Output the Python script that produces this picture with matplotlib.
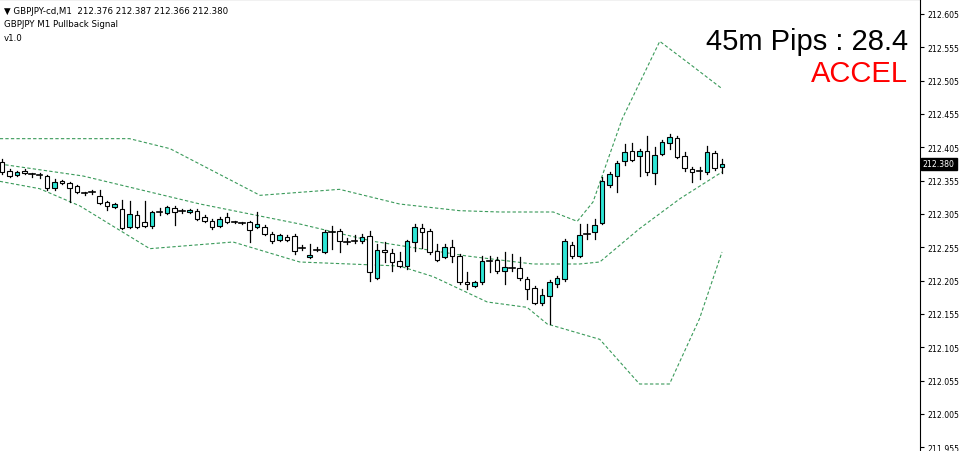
import matplotlib
matplotlib.use("Agg")
import matplotlib.pyplot as plt
import numpy as np

# OHLC for GBPJPY M1 (oldest first)
opens = [212.383, 212.370, 212.364, 212.370, 212.365, 212.364, 212.362, 212.344, 212.355, 212.351,
         212.347, 212.336, 212.338, 212.332, 212.323, 212.315, 212.312, 212.285, 212.303, 212.293,
         212.287, 212.308, 212.306, 212.314, 212.309, 212.308, 212.309, 212.300, 212.294, 212.287,
         212.300, 212.293, 212.291, 212.293, 212.285, 212.285, 212.275, 212.266, 212.270, 212.272,
         212.254, 212.240, 212.251, 212.248, 212.278, 212.279, 212.263, 212.264, 212.264, 212.272,
         212.209, 212.251, 212.246, 212.234, 212.227, 212.263, 212.284, 212.279, 212.249, 212.240,
         212.255, 212.242, 212.203, 212.197, 212.203, 212.233, 212.236, 212.219, 212.224, 212.224,
         212.207, 212.194, 212.171, 212.182, 212.200, 212.207, 212.258, 212.242, 212.275, 212.278,
         212.291, 212.348, 212.362, 212.384, 212.399, 212.392, 212.399, 212.366, 212.395, 212.411,
         212.419, 212.392, 212.373, 212.370, 212.368, 212.396, 212.376]
highs = [212.388, 212.373, 212.370, 212.373, 212.366, 212.366, 212.364, 212.358, 212.356, 212.353,
         212.348, 212.338, 212.341, 212.341, 212.324, 212.321, 212.326, 212.324, 212.309, 212.324,
         212.309, 212.314, 212.317, 212.317, 212.312, 212.312, 212.312, 212.303, 212.297, 212.300,
         212.306, 212.294, 212.293, 212.294, 212.308, 212.288, 212.278, 212.275, 212.273, 212.275,
         212.258, 212.260, 212.255, 212.281, 212.287, 212.282, 212.269, 212.273, 212.275, 212.279,
         212.260, 212.263, 212.252, 212.248, 212.266, 212.290, 212.290, 212.282, 212.260, 212.260,
         212.266, 212.245, 212.218, 212.204, 212.242, 212.242, 212.240, 212.248, 212.245, 212.240,
         212.210, 212.197, 212.192, 212.206, 212.212, 212.267, 212.263, 212.290, 212.290, 212.297,
         212.360, 212.368, 212.384, 212.410, 212.411, 212.402, 212.422, 212.405, 212.416, 212.425,
         212.422, 212.398, 212.375, 212.375, 212.407, 212.399, 212.387]
lows = [212.365, 212.361, 212.362, 212.365, 212.361, 212.359, 212.341, 212.341, 212.350, 212.323,
        212.336, 212.333, 212.335, 212.320, 212.311, 212.314, 212.283, 212.284, 212.284, 212.285,
        212.284, 212.303, 212.305, 212.288, 212.306, 212.306, 212.296, 212.293, 212.283, 212.285,
        212.291, 212.291, 212.290, 212.263, 212.284, 212.273, 212.261, 212.264, 212.264, 212.245,
        212.251, 212.239, 212.249, 212.246, 212.252, 212.248, 212.260, 212.261, 212.261, 212.204,
        212.207, 212.233, 212.219, 212.225, 212.222, 212.249, 212.254, 212.245, 212.234, 212.239,
        212.233, 212.200, 212.192, 212.195, 212.200, 212.218, 212.216, 212.200, 212.219, 212.206,
        212.177, 212.170, 212.168, 212.140, 212.195, 212.204, 212.239, 212.240, 212.267, 212.267,
        212.290, 212.345, 212.338, 212.378, 212.384, 212.362, 212.364, 212.350, 212.393, 212.402,
        212.389, 212.370, 212.353, 212.358, 212.365, 212.371, 212.366]
closes = [212.368, 212.362, 212.368, 212.366, 212.365, 212.364, 212.344, 212.353, 212.351, 212.344,
          212.338, 212.336, 212.338, 212.321, 212.317, 212.320, 212.284, 212.305, 212.285, 212.287,
          212.308, 212.308, 212.315, 212.308, 212.309, 212.311, 212.297, 212.294, 212.285, 212.297,
          212.293, 212.293, 212.291, 212.281, 212.290, 212.275, 212.264, 212.273, 212.266, 212.250,
          212.254, 212.243, 212.251, 212.278, 212.278, 212.264, 212.263, 212.264, 212.270, 212.218,
          212.251, 212.248, 212.233, 212.227, 212.264, 212.285, 212.278, 212.248, 212.236, 212.255,
          212.242, 212.203, 212.200, 212.203, 212.234, 212.234, 212.219, 212.225, 212.224, 212.209,
          212.192, 212.171, 212.183, 212.203, 212.209, 212.264, 212.242, 212.273, 212.275, 212.288,
          212.355, 212.365, 212.381, 212.398, 212.386, 212.399, 212.368, 212.393, 212.413, 212.420,
          212.390, 212.374, 212.368, 212.370, 212.398, 212.374, 212.380]

# dashed band lines: (bar index, price) knots
upper_idx = [-0.3, 17, 22.4, 34.4, 45, 53, 61, 66.4, 73.5, 76.7, 78.8, 82.7, 87.7, 91.7, 96]
upper_px = [212.418, 212.418, 212.403, 212.333, 212.342, 212.320, 212.310, 212.308, 212.308,
            212.294, 212.323, 212.448, 212.564, 212.530, 212.493]
mid_idx = [-0.3, 10.8, 26.4, 39.7, 49.5, 62, 70.8, 77, 79.7, 85, 90.4, 96]
mid_px = [212.380, 212.362, 212.320, 212.290, 212.264, 212.242, 212.230, 212.230, 212.233,
          212.283, 212.328, 212.368]
lower_idx = [-0.3, 5, 10.4, 19.7, 30.8, 39.7, 53, 57.5, 64.7, 70, 72.7, 79.7, 85, 89, 93, 96]
lower_px = [212.354, 212.343, 212.317, 212.253, 212.263, 212.233, 212.227, 212.211, 212.173,
            212.165, 212.140, 212.117, 212.050, 212.050, 212.148, 212.248]

y_ticks = [212.605, 212.555, 212.505, 212.455, 212.405, 212.355, 212.305, 212.255, 212.205,
           212.155, 212.105, 212.055, 212.005, 211.955]
last_price = 212.380
header = "GBPJPY-cd,M1  212.376 212.387 212.366 212.380"
indicator_name = "GBPJPY M1 Pullback Signal"
version = "v1.0"
pips_text = "45m Pips : 28.4"
state_text = "ACCEL"

BULL = "#2ee6d6"
BAND = "#3a9a5a"

fig = plt.figure(figsize=(9.6, 4.52), dpi=100)
ax = fig.add_axes([0, 0, 920 / 960, 1])
ax.set_xlim(-0.27, 122.4)
ax.set_ylim(211.9495, 212.6275)

for i, (o, h, l, c) in enumerate(zip(opens, highs, lows, closes)):
    ax.plot([i, i], [l, h], color="black", lw=0.9, zorder=2)
    if abs(c - o) < 0.0015:
        ax.plot([i - 0.35, i + 0.35], [c, c], color="black", lw=1.2, zorder=3)
        continue
    color = BULL if c > o else "white"
    ax.bar(i, abs(c - o), bottom=min(o, c), width=0.66, color=color,
           edgecolor="black", linewidth=0.8, zorder=3)

for xs, ys in [(upper_idx, upper_px), (mid_idx, mid_px), (lower_idx, lower_px)]:
    ax.plot(xs, ys, color=BAND, lw=0.8, ls=(0, (3, 2)), zorder=1)

ax.yaxis.tick_right()
ax.set_yticks(y_ticks)
ax.set_yticklabels([f"{t:.3f}" for t in y_ticks], fontsize=5.6)
ax.tick_params(axis="y", direction="out", length=3, pad=2)
ax.set_xticks([])
for side in ["left", "bottom"]:
    ax.spines[side].set_visible(False)

ax.annotate(f"{last_price:.3f}", xy=(1.0, last_price), xycoords=("axes fraction", "data"),
            xytext=(2, 0), textcoords="offset points", va="center", ha="left",
            fontsize=5.6, color="white",
            bbox=dict(boxstyle="square,pad=0.25", fc="black", ec="black"))

ax.text(0.004, 0.985, "\u25bc " + header, transform=ax.transAxes, fontsize=6.2, va="top")
ax.text(0.004, 0.955, indicator_name, transform=ax.transAxes, fontsize=6.2, va="top")
ax.text(0.004, 0.925, version, transform=ax.transAxes, fontsize=6.2, va="top")
ax.text(908 / 920, 1 - 42 / 452, pips_text, transform=ax.transAxes, fontsize=21,
        family="Liberation Sans", ha="right", va="center")
ax.text(908 / 920, 1 - 74 / 452, state_text, transform=ax.transAxes, fontsize=21,
        family="Liberation Sans", color="red", ha="right", va="center")

fig.savefig("out.png", dpi=100)
